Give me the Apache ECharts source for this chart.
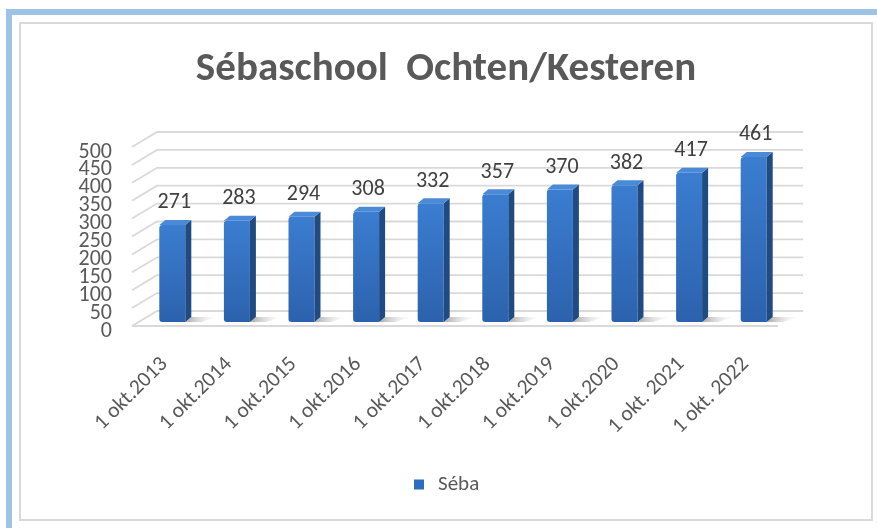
<!DOCTYPE html>
<html>
<head>
<meta charset="utf-8">
<title>Sébaschool Ochten/Kesteren</title>
<script src="https://cdn.jsdelivr.net/npm/echarts@6/dist/echarts.min.js"></script>
<style>
  html, body { margin: 0; padding: 0; background: #fff; }
  #main { width: 877px; height: 528px; }
</style>
</head>
<body>
<div id="main"></div>
<script type="text/javascript">

var categories = ['1 okt.2013', '1 okt.2014', '1 okt.2015', '1 okt.2016', '1 okt.2017',
                  '1 okt.2018', '1 okt.2019', '1 okt.2020', '1 okt. 2021', '1 okt. 2022'];
var leerlingen = [271, 283, 294, 308, 332, 357, 370, 382, 417, 461];
var yTicks = [0, 50, 100, 150, 200, 250, 300, 350, 400, 450, 500];

var font = 'Carlito, "Liberation Sans Narrow", "Liberation Sans", sans-serif';

// depth of the 3d box (back wall offset)
var wallDx = 25, wallDy = -15;

var myChart = echarts.init(document.getElementById('main'));

// gridline on side + back wall, plus the y tick label (labels overlap, so drawn here)
function renderWall(params, api) {
    var cs = params.coordSys;
    var v = api.value(1);
    var y = api.coord([0, v])[1];
    var children = [{
        type: 'polyline',
        shape: { points: [[cs.x, y], [cs.x + wallDx, y + wallDy], [cs.x + cs.width + wallDx, y + wallDy]] },
        style: { stroke: '#d9d9d9', lineWidth: 1.8, fill: null },
        silent: true
    }, {
        type: 'text',
        style: {
            x: cs.x - 20, y: y + 5,
            text: String(v),
            align: 'right', verticalAlign: 'middle',
            fontFamily: font, fontSize: 22, fill: '#595959'
        },
        silent: true
    }];
    if (v === 0) {
        children.push({
            type: 'line',
            shape: { x1: cs.x, y1: y, x2: cs.x + cs.width, y2: y },
            style: { stroke: '#d9d9d9', lineWidth: 2 },
            silent: true
        });
    }
    return { type: 'group', children: children };
}

function renderBar(params, api) {
    var base = api.coord([api.value(0), 0]);
    var top = api.coord([api.value(0), api.value(1)]);
    var bw = 26, ox = 8, oy = -4, sx = 6, sy = -5;
    var x0 = base[0] - bw / 2 + ox, x1 = x0 + bw;
    var yb = base[1] + oy, yt = top[1] + oy;
    return {
        type: 'group',
        children: [
            {
                type: 'polygon',
                shape: { points: [[x1, yb], [x1 + sx, yb + sy], [x1 + sx + 26, yb + sy], [x1 + 16, yb]] },
                style: {
                    fill: new echarts.graphic.LinearGradient(0, 0, 1, 0, [
                        { offset: 0, color: 'rgba(80,80,80,0.5)' },
                        { offset: 1, color: 'rgba(200,200,200,0)' }
                    ])
                }
            },
            {
                type: 'rect',
                shape: { x: x0, y: yt, width: bw, height: yb - yt, r: [3, 0, 0, 3] },
                style: {
                    fill: new echarts.graphic.LinearGradient(0, 0, 0, 1, [
                        { offset: 0, color: '#3b7dd0' },
                        { offset: 1, color: '#2c62ad' }
                    ])
                }
            },
            {
                type: 'polygon',
                shape: { points: [[x1, yt], [x1 + sx, yt + sy], [x1 + sx, yb + sy], [x1, yb]] },
                style: { fill: '#1f4a82' }
            },
            {
                type: 'polygon',
                shape: { points: [[x0, yt], [x0 + sx, yt + sy], [x1 + sx, yt + sy], [x1, yt]] },
                style: { fill: '#4a8ad6' }
            },
            {
                type: 'text',
                style: {
                    x: x0 + bw / 2 + 2, y: yt - 22,
                    text: String(api.value(1)),
                    align: 'center', verticalAlign: 'middle',
                    fontFamily: font, fontSize: 22, fill: '#404040'
                }
            }
        ]
    };
}

var option = {
    animation: false,
    legend: {
        data: ['Séba'],
        top: 474,
        left: 414,
        padding: 0,
        icon: 'rect',
        itemWidth: 10,
        itemHeight: 10,
        textStyle: { fontFamily: font, fontSize: 21, color: '#595959', padding: [0, 0, 0, 9] }
    },
    graphic: [
        { type: 'rect', shape: { x: 6, y: 9, width: 871, height: 6 }, style: { fill: '#9dc3e6' }, silent: true },
        { type: 'rect', shape: { x: 6, y: 9, width: 6, height: 519 }, style: { fill: '#9dc3e6' }, silent: true },
        { type: 'rect', shape: { x: 20, y: 23, width: 852, height: 497 }, style: { fill: null, stroke: '#d9d9d9', lineWidth: 2 }, silent: true },
        {
            type: 'text', x: 446, y: 70, silent: true,
            style: {
                text: 'Sébaschool  Ochten/Kesteren',
                align: 'center', verticalAlign: 'middle',
                fontFamily: font, fontSize: 41, fontWeight: 'bold', fill: '#595959'
            }
        }
    ],
    grid: { left: 132, right: 99, top: 147, bottom: 202 },
    xAxis: {
        type: 'category',
        data: categories,
        axisLine: { show: false },
        axisTick: { show: false },
        axisLabel: {
            rotate: 45,
            margin: 35,
            interval: 0,
            fontFamily: font,
            fontSize: 21.5,
            color: '#595959'
        }
    },
    yAxis: {
        type: 'value',
        min: 0,
        max: 500,
        interval: 50,
        axisLine: { show: false },
        axisTick: { show: false },
        splitLine: { show: false },
        axisLabel: { show: false }
    },
    series: [
        {
            name: 'wall',
            type: 'custom',
            z: 1,
            silent: true,
            renderItem: renderWall,
            data: yTicks.map(function (t) { return [0, t]; })
        },
        {
            name: 'Séba',
            type: 'custom',
            z: 2,
            itemStyle: { color: '#2e6cc0' },
            renderItem: renderBar,
            data: leerlingen.map(function (v, i) { return [i, v]; })
        }
    ]
};

myChart.setOption(option);
</script>
</body>
</html>
